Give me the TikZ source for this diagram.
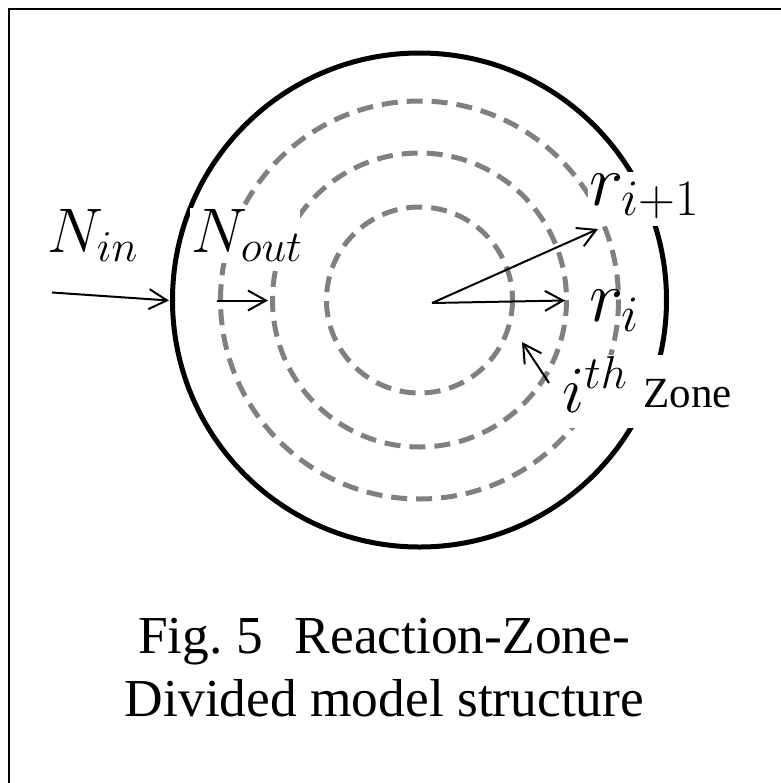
\RequirePackage{fix-cm}
\documentclass[tikz,border=0pt]{standalone}
\usepackage{fontspec}
\newfontfamily\timesfont{Liberation Serif}
\usetikzlibrary{arrows.meta}
\definecolor{ringgray}{RGB}{128,128,128}
\begin{document}
\begin{tikzpicture}[x=0.5pt,y=-0.5pt,
  solidring/.style={line width=2.5pt,draw=black},
  dashring/.style={line width=2.5pt,draw=ringgray,dash pattern=on 8pt off 4.5pt},
  pointer/.style={line width=1pt,-{Straight Barb[length=9pt,width=10pt]}},
  labelbg/.style={fill=white,draw=none},
  mathlbl/.style={inner sep=0pt,anchor=base west},
  caption/.style={inner sep=0pt,anchor=base,font=\timesfont\fontsize{26.7}{30}\selectfont},
  frameline/.style={line width=1pt,draw=black}
]
\useasboundingbox (0,0) rectangle (781,783);
% frame
\draw[frameline] (9,783) -- (9,9) -- (781,9);
% rings
\coordinate (ctr) at (419.5,300);
\draw[solidring] (ctr) circle[radius=247];
\draw[dashring] (ctr) circle[radius=199];
\draw[dashring] (ctr) circle[radius=147];
\draw[dashring] (ctr) circle[radius=93];
% arrow end points
\coordinate (orig) at (432,303);
\coordinate (riTip) at (565,300.5);
\coordinate (rjTip) at (598,229);
\coordinate (zoneTail) at (549,383);
\coordinate (zoneTip) at (522,342);
\coordinate (ninTail) at (52,292.5);
\coordinate (ninTip) at (169,300.5);
\coordinate (noutTail) at (217,300.5);
\coordinate (noutTip) at (268,300.5);
% arrows
\draw[pointer] (orig) -- (riTip);
\draw[pointer] (orig) -- (rjTip);
\draw[pointer] (zoneTail) -- (zoneTip);
\draw[pointer] (ninTail) -- (ninTip);
\draw[pointer] (noutTail) -- (noutTip);
% label backgrounds
\fill[labelbg] (190,208) rectangle (300,263);
\fill[labelbg] (588,172) rectangle (702,226);
\fill[labelbg] (560,355) rectangle (737,428);
% labels
\node[mathlbl,font=\fontsize{31.5}{33}\selectfont] (nin) at (47,252) {$N_{in}$};
\begin{scope}
  \clip (190,208) rectangle (300,262);
  \node[mathlbl,font=\fontsize{31.5}{33}\selectfont] (nout) at (191,252) {$N_{out}$};
\end{scope}
\node[mathlbl,font=\fontsize{36.5}{38}\selectfont] (rj) at (589,205) {$r_{i+1}$};
\node[mathlbl,font=\fontsize{36.5}{38}\selectfont] (ri) at (589,321) {$r_{i}$};
\node[mathlbl,font=\fontsize{33}{35}\selectfont] (ith) at (562,412) {$i^{th}$};
\node[mathlbl,font=\timesfont\fontsize{21.5}{23}\selectfont] (zone) at (643,407) {Zone};
% caption
\node[caption] (cap1) at (384,653) {Fig.\ 5\hspace{0.6em}Reaction-Zone-};
\node[caption] (cap2) at (384.5,716) {Divided model structure};
\end{tikzpicture}
\end{document}
